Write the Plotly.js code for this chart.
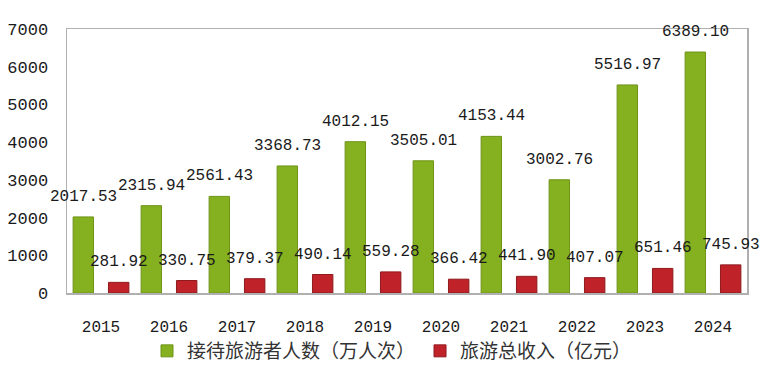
<!DOCTYPE html>
<html><head><meta charset="utf-8">
<script src="https://cdn.plot.ly/plotly-3.0.1.min.js"></script>
<style>body{margin:0;background:#fff}#c{width:768px;height:371px}</style>
</head><body><div id="c"></div>
<script>
const years = ['2015','2016','2017','2018','2019','2020','2021','2022','2023','2024'];
const visitors = [2017.53,2315.94,2561.43,3368.73,4012.15,3505.01,4153.44,3002.76,5516.97,6389.10];
const revenue = [281.92,330.75,379.37,490.14,559.28,366.42,441.90,407.07,651.46,745.93];
const yTicks = [0,1000,2000,3000,4000,5000,6000,7000];
const seriesNames = ['接待旅游者人数（万人次）','旅游总收入（亿元）'];

const green = '#85b020', red = '#c0222a';
const monoFont = {family:'Liberation Mono, DejaVu Sans Mono, monospace', size:16, color:'#1a1a1a'};
const tickFont = {family:'Liberation Mono, DejaVu Sans Mono, monospace', size:17, color:'#1a1a1a'};

const traces = [
  {type:'bar', x:years, y:visitors, name:seriesNames[0], width:0.3, offset:-0.41,
   marker:{color:green, line:{color:'#6e9419', width:1}}, hoverinfo:'y'},
  {type:'bar', x:years, y:revenue, name:seriesNames[1], width:0.3, offset:0.11,
   marker:{color:red, line:{color:'#8e1a1e', width:1}}, hoverinfo:'y'}
];

const ann = [];
years.forEach((yr,i)=>{
  ann.push({x:i-0.26, y:visitors[i], xref:'x', yref:'y', text:visitors[i].toFixed(2),
    showarrow:false, yanchor:'bottom', yshift:9, font:monoFont});
  ann.push({x:i+0.26, y:revenue[i], xref:'x', yref:'y', text:revenue[i].toFixed(2),
    showarrow:false, yanchor:'bottom', yshift:9, font:monoFont});
});

const layout = {
  width:768, height:371,
  margin:{l:67, r:21, t:29, b:78, autoexpand:false},
  paper_bgcolor:'#fff', plot_bgcolor:'#fff',
  barmode:'group',
  showlegend:true,
  legend:{orientation:'h', xref:'container', yref:'container', x:392/768, xanchor:'center',
    y:1-351/371, yanchor:'middle', bgcolor:'rgba(0,0,0,0)',
    font:{family:'Noto Sans CJK SC, sans-serif', size:19, color:'#333'}, itemwidth:30},
  xaxis:{type:'category', range:[-0.5,9.5], showline:true, mirror:true, linecolor:'#b0b0b0', linewidth:1.5,
    ticks:'', ticklabelstandoff:18, tickfont:monoFont, showgrid:false, zeroline:false},
  yaxis:{range:[0,7000], tickvals:yTicks, ticktext:yTicks.map(String), showline:true, mirror:true,
    linecolor:'#b0b0b0', linewidth:1.5, ticks:'', ticklabelstandoff:14, tickfont:tickFont,
    showgrid:false, zeroline:false},
  annotations:ann
};
Plotly.newPlot('c', traces, layout, {displayModeBar:false, staticPlot:true});
</script></body></html>
